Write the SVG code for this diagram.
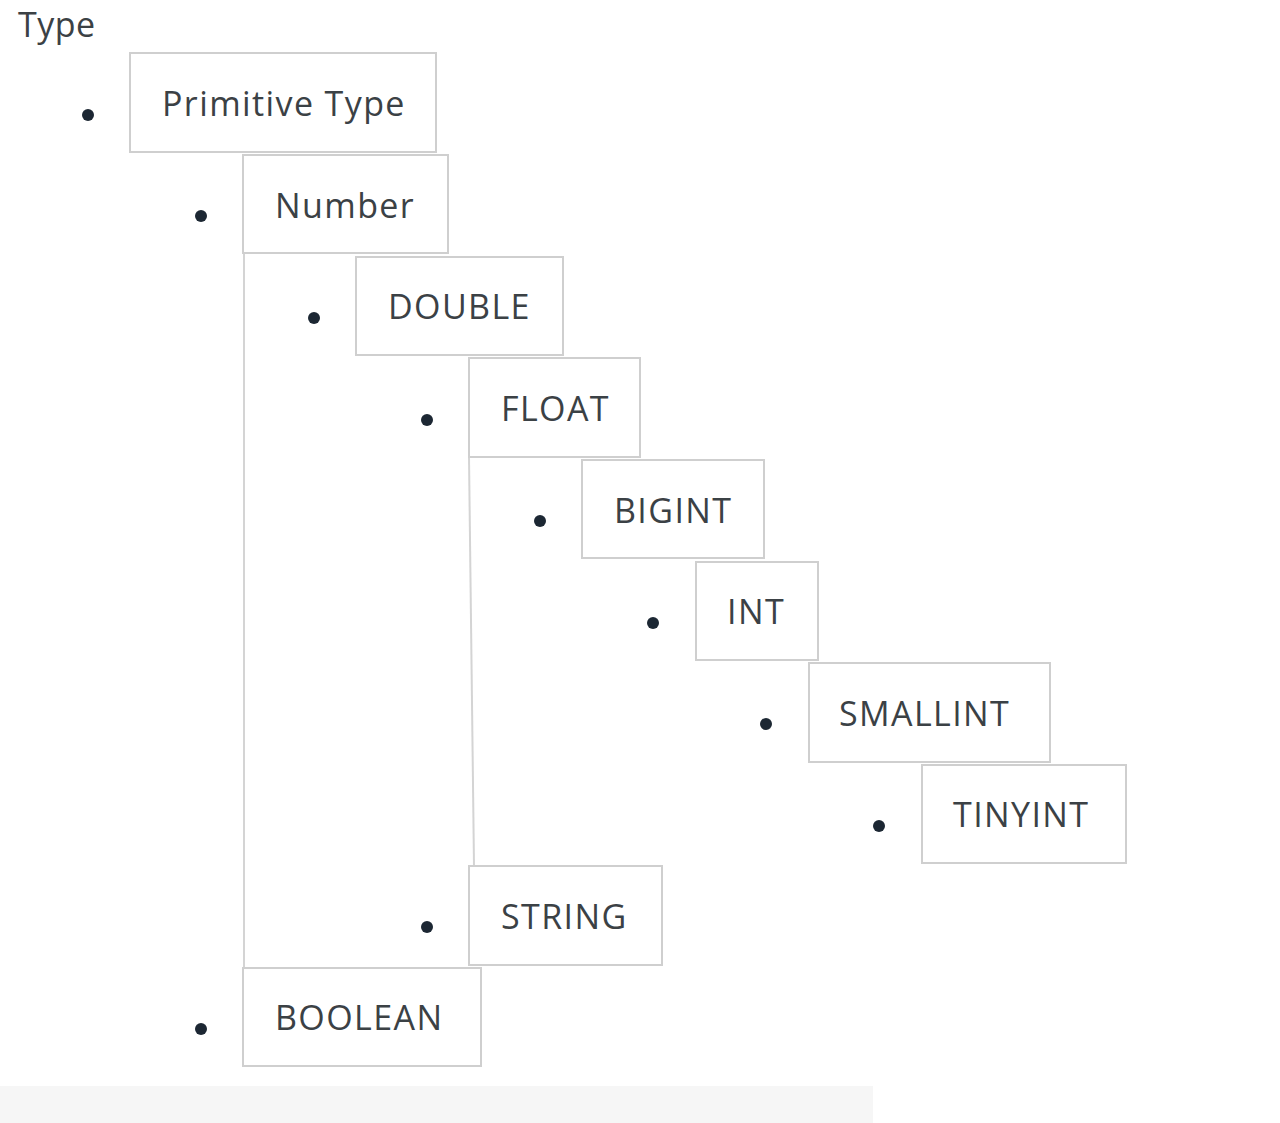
<svg xmlns="http://www.w3.org/2000/svg" width="1280" height="1123" viewBox="0 0 1280 1123">
<style>
.box{fill:#fff;stroke:#cfcfcf;stroke-width:2}
.lbl{font-family:"Open Sans","Noto Sans",sans-serif;font-size:34px;letter-spacing:1.4px;fill:#3b4145}
.dot{fill:#1c2733}
.conn{stroke:#d4d4d4;stroke-width:2;fill:none}
</style>
<rect width="1280" height="1123" fill="#fff"/>
<rect x="0" y="1086" width="873" height="37" fill="#f6f6f6"/>
<text class="lbl" x="18" y="37" style="letter-spacing:0.5px">Type</text>
<g id="connectors">
<line class="conn" x1="244" y1="253" x2="244" y2="968"/>
<line class="conn" x1="469" y1="457" x2="474" y2="866"/>
</g>
<g id="primitive-type"><circle class="dot" cx="88" cy="115" r="6"/><rect class="box" x="130" y="53" width="306" height="99"/><text class="lbl" x="162" y="116">Primitive Type</text></g>
<g id="number"><circle class="dot" cx="201" cy="216" r="6"/><rect class="box" x="243" y="155" width="205" height="98"/><text class="lbl" x="275" y="218">Number</text></g>
<g id="double"><circle class="dot" cx="314" cy="318" r="6"/><rect class="box" x="356" y="257" width="207" height="98"/><text class="lbl" x="388" y="319">DOUBLE</text></g>
<g id="float"><circle class="dot" cx="427" cy="420" r="6"/><rect class="box" x="469" y="358" width="171" height="99"/><text class="lbl" x="501" y="421">FLOAT</text></g>
<g id="bigint"><circle class="dot" cx="540" cy="521" r="6"/><rect class="box" x="582" y="460" width="182" height="98"/><text class="lbl" x="614" y="523">BIGINT</text></g>
<g id="int"><circle class="dot" cx="653" cy="623" r="6"/><rect class="box" x="696" y="562" width="122" height="98"/><text class="lbl" x="727" y="624">INT</text></g>
<g id="smallint"><circle class="dot" cx="766" cy="724" r="6"/><rect class="box" x="809" y="663" width="241" height="99"/><text class="lbl" x="839" y="726">SMALLINT</text></g>
<g id="tinyint"><circle class="dot" cx="879" cy="826" r="6"/><rect class="box" x="922" y="765" width="204" height="98"/><text class="lbl" x="953" y="827">TINYINT</text></g>
<g id="string"><circle class="dot" cx="427" cy="927" r="6"/><rect class="box" x="469" y="866" width="193" height="99"/><text class="lbl" x="501" y="929">STRING</text></g>
<g id="boolean"><circle class="dot" cx="201" cy="1029" r="6"/><rect class="box" x="243" y="968" width="238" height="98"/><text class="lbl" x="275" y="1030">BOOLEAN</text></g>
</svg>
